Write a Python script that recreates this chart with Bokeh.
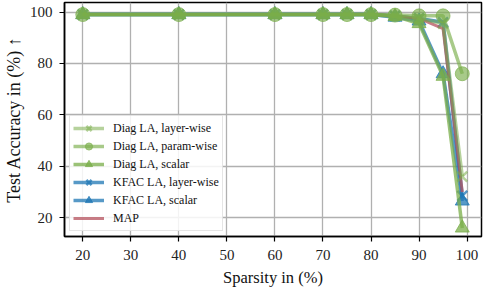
from bokeh.plotting import figure
from bokeh.models import Range1d, Legend, LegendItem, FixedTicker
from bokeh.embed import file_html
from bokeh.resources import INLINE

sparsity = [20, 40, 60, 70, 75, 80, 85, 90, 95, 99]
diag_layer = [99, 99, 99, 99, 99, 99, 98.5, 97.5, 95.5, 36]
diag_param = [99, 99, 99, 99, 99, 99, 98.8, 98.5, 98.5, 76]
diag_scalar = [99, 99, 99, 99, 99, 99, 98.3, 95.5, 75, 16]
kfac_layer = [99, 99, 99, 99, 99, 99, 98.5, 97.5, 96, 28.5]
kfac_scalar = [99, 99, 99, 99, 99, 99, 98, 96.5, 76, 26.5]
map_acc = [99, 99, 99, 99, 99, 99, 98.5, 97.5, 93.5, 30]

x_ticks = [20, 30, 40, 50, 60, 70, 80, 90, 100]
y_ticks = [20, 40, 60, 80, 100]

FONT = "Liberation Serif"
GREEN = "#7aad4a"
BLUE = "#1f77b4"
RED = "#b5525e"

p = figure(width=483, height=289, output_backend="svg", toolbar_location=None,
           x_range=Range1d(16.2, 103), y_range=Range1d(12.7, 103.7),
           min_border_left=62, min_border_right=2, min_border_top=2, min_border_bottom=52)

p.outline_line_color = "black"
p.outline_line_width = 1.5
p.background_fill_color = "white"
p.border_fill_color = "white"

for ax in (p.xaxis[0], p.yaxis[0]):
    ax.axis_line_width = 1.5
    ax.major_tick_line_width = 1.2
    ax.major_tick_out = 5
    ax.major_tick_in = 0
    ax.minor_tick_line_color = None
    ax.major_label_text_font = FONT
    ax.major_label_text_font_size = "15px"
    ax.axis_label_text_font = FONT
    ax.axis_label_text_font_size = "16.5px"
    ax.axis_label_text_font_style = "normal"
    ax.major_label_text_color = "#222222"
    ax.axis_label_text_color = "#111111"

p.yaxis.axis_label_text_font_size = "18px"
p.xaxis.ticker = FixedTicker(ticks=x_ticks)
p.yaxis.ticker = FixedTicker(ticks=y_ticks)
p.xaxis.axis_label = "Sparsity in (%)"
p.yaxis.axis_label = "Test Accuracy in (%) \u2191"
p.xaxis.major_label_standoff = 8
p.yaxis.major_label_standoff = 7
p.xaxis.axis_label_standoff = 5
p.yaxis.axis_label_standoff = 3

p.grid.grid_line_color = "#b0b0b0"
p.grid.grid_line_width = 1.3

def series(y, color, alpha, marker, lw=3.5, size=14):
    r_line = p.line(sparsity, y, line_color=color, line_alpha=alpha, line_width=lw)
    rs = []
    if marker is not None:
        if marker == "x":
            r_m = p.scatter(sparsity, y, marker="x", size=size, line_color=color,
                            line_alpha=alpha, line_width=2.5)
        else:
            r_m = p.scatter(sparsity, y, marker=marker, size=size, line_color=color,
                            fill_color=color, alpha=alpha, line_width=1)
        rs.append(r_m)
    return [r_line] + rs

r_kl = series(kfac_layer, BLUE, 0.75, "x")
r_ks = series(kfac_scalar, BLUE, 0.75, "triangle")
r_map = series(map_acc, RED, 0.75, None, lw=3)
r_dl = series(diag_layer, GREEN, 0.55, "x")
r_dp = series(diag_param, GREEN, 0.65, "circle")
r_ds = series(diag_scalar, GREEN, 0.75, "triangle")

legend = Legend(items=[
    LegendItem(label="Diag LA, layer-wise", renderers=r_dl),
    LegendItem(label="Diag LA, param-wise", renderers=r_dp),
    LegendItem(label="Diag LA, scalar", renderers=r_ds),
    LegendItem(label="KFAC LA, layer-wise", renderers=r_kl),
    LegendItem(label="KFAC LA, scalar", renderers=r_ks),
    LegendItem(label="MAP", renderers=r_map),
], location="bottom_left")
legend.label_text_font = FONT
legend.label_text_font_size = "12px"
legend.label_text_color = "#111111"
legend.label_height = 18
legend.glyph_height = 18
legend.glyph_width = 31
legend.label_standoff = 9
legend.spacing = 0
legend.padding = 3
legend.margin = 5
legend.border_line_color = "#cccccc"
legend.border_line_width = 1.5
legend.background_fill_alpha = 0.85
p.add_layout(legend)

open("out.html", "w").write(file_html(p, INLINE))
